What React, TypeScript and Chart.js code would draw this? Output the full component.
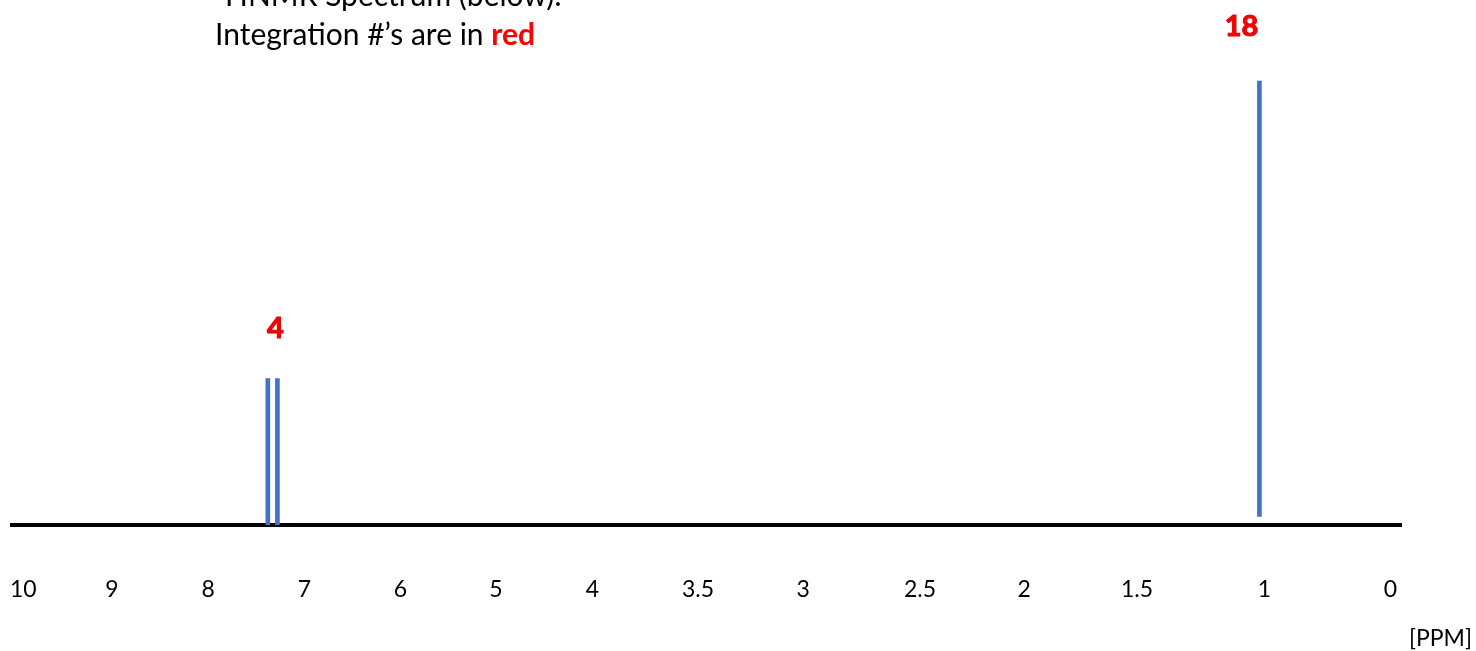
import React, { useEffect, useRef } from "react";
import { Chart, registerables } from "chart.js";

Chart.register(...registerables);

// ---- data ----
const tickPpm = [10, 9, 8, 7, 6, 5, 4, 3.5, 3, 2.5, 2, 1.5, 1, 0];
const tickLabels = ["10", "9", "8", "7", "6", "5", "4", "3.5", "3", "2.5", "2", "1.5", "1", "0"];
const peakPpm = [7.38, 7.28, 1.02];
const peakHeight = [0.33, 0.33, 1.0];
const peakBase = [0, 0, 0.02];
const integrationLabels = ["4", "18"];
const integrationPpm = [7.3, 1.09];
const integrationLevel = [0.443, 1.122];
const titleLines = ["\u00B9HNMR Spectrum (below):", "Integration #\u2019s are in "];
const titleHighlight = "red";
const axisUnit = "[PPM]";

// ---- axis layout: where each tick label sits along the axis (percent of axis length) ----
const AXIS_STOPS = [0.81, 7.19, 14.12, 21.03, 27.94, 34.82, 41.76, 49.35, 56.91, 65.32, 72.81, 80.94, 90.11, 99.17];

function ppmToStop(ppm: number): number {
  for (let i = 0; i < tickPpm.length - 1; i++) {
    const a = tickPpm[i];
    const b = tickPpm[i + 1];
    if (ppm <= a && ppm >= b) {
      const t = (a - ppm) / (a - b);
      return AXIS_STOPS[i] + t * (AXIS_STOPS[i + 1] - AXIS_STOPS[i]);
    }
  }
  return ppm > tickPpm[0] ? AXIS_STOPS[0] : AXIS_STOPS[AXIS_STOPS.length - 1];
}

const FONT = "Lato, 'Open Sans', sans-serif";

const textPlugin = {
  id: "nmrText",
  afterDraw(chart: any) {
    const { ctx } = chart;
    const x = chart.scales.x;
    const y = chart.scales.y;
    ctx.save();
    ctx.textAlign = "left";
    ctx.textBaseline = "alphabetic";
    ctx.fillStyle = "#000";
    ctx.font = `30px ${FONT}`;
    ctx.fillText(titleLines[0], 215, 6);
    ctx.fillText(titleLines[1], 215, 45);
    const w = ctx.measureText(titleLines[1]).width;
    ctx.fillStyle = "#FF0000";
    ctx.font = `bold 30px ${FONT}`;
    ctx.fillText(titleHighlight, 215 + w, 45);

    ctx.font = `bold 29px ${FONT}`;
    ctx.textAlign = "center";
    ctx.textBaseline = "middle";
    ctx.strokeStyle = "#E00000";
    ctx.lineWidth = 1;
    integrationLabels.forEach((t, i) => {
      const px = x.getPixelForValue(ppmToStop(integrationPpm[i]));
      const py = y.getPixelForValue(integrationLevel[i]);
      ctx.fillText(t, px, py);
      ctx.strokeText(t, px, py);
    });

    ctx.fillStyle = "#000";
    ctx.font = `23px ${FONT}`;
    ctx.textAlign = "right";
    ctx.textBaseline = "alphabetic";
    ctx.fillText(axisUnit, 1472, 646);
    ctx.restore();
  },
};

export default function App() {
  const canvasRef = useRef<HTMLCanvasElement | null>(null);

  useEffect(() => {
    if (!canvasRef.current) return;
    const chart = new Chart(canvasRef.current, {
      type: "bar",
      data: {
        datasets: [
          {
            data: peakPpm.map((p, i) => ({ x: ppmToStop(p), y: [peakBase[i], peakHeight[i]] })) as any,
            backgroundColor: "#4472C4",
            borderWidth: 0,
            barThickness: 4,
          },
        ],
      },
      options: {
        animation: false,
        responsive: true,
        maintainAspectRatio: false,
        layout: { padding: { left: 12, right: 74, top: 36.6, bottom: 47.2 } },
        plugins: {
          legend: { display: false },
          tooltip: { enabled: false },
          title: { display: false },
        },
        scales: {
          x: {
            type: "linear",
            min: 0,
            max: 100,
            offset: false,
            grid: {
              display: true,
              offset: false,
              drawOnChartArea: false,
              drawTicks: true,
              tickLength: 51,
              color: "rgba(0,0,0,0)",
              lineWidth: 0,
            },
            border: { display: true, color: "#000", width: 4 },
            afterBuildTicks: (scale: any) => {
              scale.ticks = AXIS_STOPS.map((v) => ({ value: v }));
            },
            ticks: {
              autoSkip: false,
              maxRotation: 0,
              minRotation: 0,
              padding: 0,
              color: "#000",
              font: { family: FONT, size: 23 },
              callback: (_v: any, index: number) => tickLabels[index],
            },
          } as any,
          y: { display: false, min: 0, max: 1.1 },
        },
      },
      plugins: [textPlugin],
    });
    return () => chart.destroy();
  }, []);

  return (
    <div style={{ position: "absolute", left: 0, top: 0, width: 1476, height: 651, background: "#fff" }}>
      <canvas ref={canvasRef} />
    </div>
  );
}
